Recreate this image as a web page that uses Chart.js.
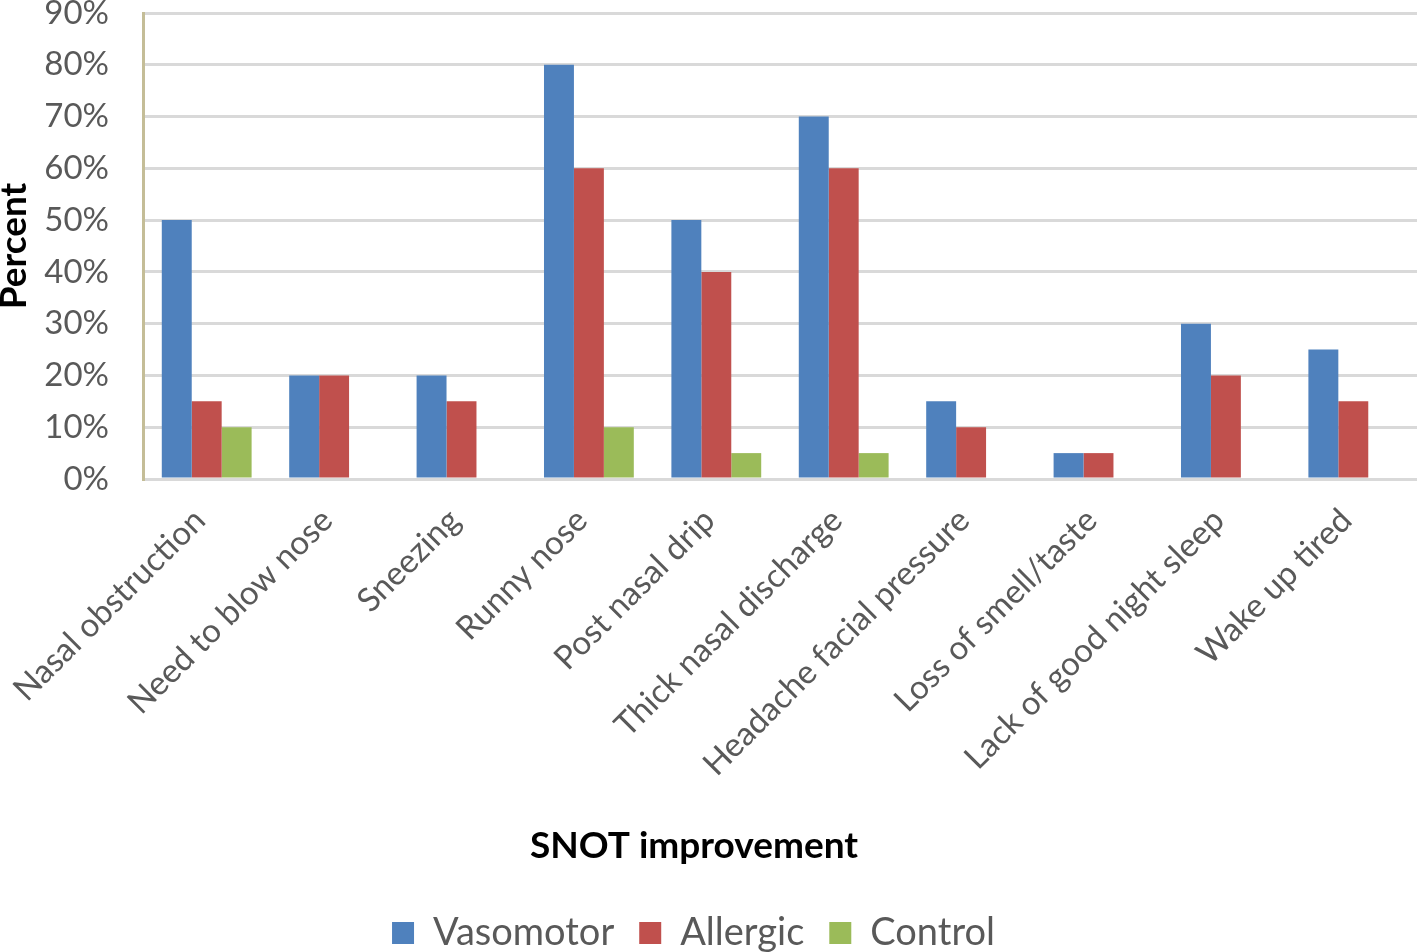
<!DOCTYPE html>
<html>
<head>
<meta charset="utf-8">
<script src="https://cdn.jsdelivr.net/npm/chart.js@4/dist/chart.umd.min.js"></script>
<style>
html,body{margin:0;padding:0;background:#fff;}
#wrap{width:1417px;height:952px;position:relative;}
</style>
</head>
<body>
<div id="wrap"><canvas id="c" width="1417" height="952"></canvas></div>
<script>
const categories = ["Nasal obstruction","Need to blow nose","Sneezing","Runny nose","Post nasal drip","Thick nasal discharge","Headache facial pressure","Loss of smell/taste","Lack of good night sleep","Wake up tired"];
const vasomotor = [50,20,20,80,50,70,15,5,30,25];
const allergic  = [15,20,15,60,40,60,10,5,20,15];
const control   = [10,0,0,10,5,5,0,0,0,0];
const yTicks = [0,10,20,30,40,50,60,70,80,90];
const xTitle = "SNOT improvement";
const yTitle = "Percent";

const FONT = "Lato, 'Open Sans', sans-serif";

const xTitlePlugin = {
  id: 'xTitlePlugin',
  afterLayout(chart) {
    if (chart.legend) {
      chart.legend.right -= 30;
      chart.legend.width -= 30;
    }
  },
  afterDraw(chart) {
    const ctx = chart.ctx;
    ctx.save();
    ctx.font = "bold 37px " + FONT;
    ctx.fillStyle = "#000";
    ctx.textAlign = "center";
    ctx.textBaseline = "middle";
    ctx.fillText(xTitle, 694, 846);
    ctx.restore();
  }
};

new Chart(document.getElementById('c'), {
  type: 'bar',
  data: {
    labels: categories,
    datasets: [
      {label: 'Vasomotor', data: vasomotor, backgroundColor: '#4F81BD'},
      {label: 'Allergic', data: allergic, backgroundColor: '#C0504D'},
      {label: 'Control', data: control, backgroundColor: '#9BBB59'}
    ]
  },
  options: {
    responsive: false,
    animation: false,
    layout: {padding: {top: 13, right: 0, left: 0, bottom: -10}},
    datasets: {bar: {categoryPercentage: 0.705, barPercentage: 1.0}},
    plugins: {
      legend: {
        position: 'bottom',
        labels: {
          font: {family: FONT, size: 38, lineHeight: 1},
          color: '#595959',
          boxWidth: 22,
          boxHeight: 22,
          padding: 25
        }
      },
      tooltip: {enabled: false}
    },
    scales: {
      x: {
        grid: {display: false, drawTicks: false},
        border: {display: true, color: '#D9D9D9', width: 3},
        ticks: {
          font: {family: FONT, size: 33},
          color: '#595959',
          minRotation: 45,
          maxRotation: 45,
          padding: 22,
          labelOffset: -7
        },
        afterFit(scale) { scale.height = 410; scale.paddingLeft = 0; scale.paddingRight = 0; }
      },
      y: {
        min: 0,
        max: 90,
        afterBuildTicks(scale) { scale.ticks = yTicks.map(v => ({value: v})); },
        grid: {color: '#D9D9D9', lineWidth: 3, drawTicks: false},
        border: {display: true, color: '#C4BD97', width: 3},
        ticks: {
          font: {family: FONT, size: 33},
          color: '#595959',
          padding: 34,
          callback: v => v + '%'
        },
        title: {
          display: true,
          text: yTitle,
          font: {family: FONT, size: 37, weight: 'bold', lineHeight: 1},
          color: '#000',
          padding: {top: -4, bottom: 0}
        },
        afterFit(scale) { scale.width = 143; scale.paddingTop = 0; scale.paddingBottom = 0; }
      }
    }
  },
  plugins: [xTitlePlugin]
});
</script>
</body>
</html>
